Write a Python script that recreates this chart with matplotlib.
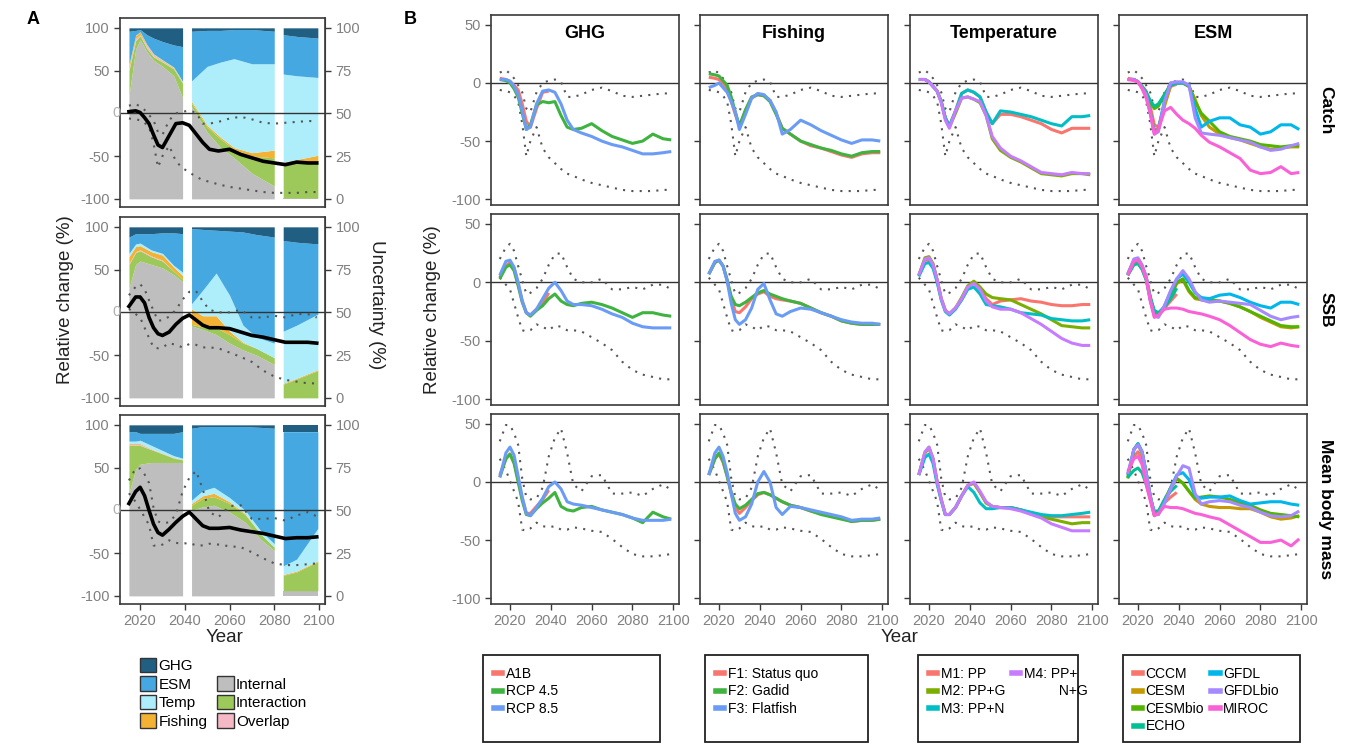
import numpy as np
import matplotlib.pyplot as plt
from matplotlib.patches import Patch, Rectangle
from matplotlib.lines import Line2D

plt.rcParams['font.family'] = ['Liberation Sans', 'DejaVu Sans']
plt.rcParams['axes.unicode_minus'] = False

# ---------------- data ----------------
years = [2015, 2018, 2020, 2022, 2024, 2026, 2028, 2030, 2033, 2036, 2039, 2042, 2045,
         2048, 2051, 2055, 2060, 2065, 2070, 2075, 2080, 2085, 2090, 2095, 2099]
years_short = years[:11]   # runs that stop in 2039

# dotted envelopes (same in panel A and B)
catch_upper = [9, 11, 8, 4, -2, -8, -22, -25, -8, 0, 2, 3, 1, -12, -12, -10, -6, -4, -7, -11, -12, -11, -10, -9, -9]
catch_lower = [-6, -7, -8, -11, -16, -35, -63, -50, -38, -56, -64, -69, -74, -78, -80, -83, -86, -88, -90, -92, -93, -93, -93, -92, -92]
ssb_upper = [20, 30, 33, 27, 14, 2, -10, -9, -5, 3, 15, 24, 25, 13, 3, 0, 0, 3, -6, -6, -4, -6, -2, -2, -6]
ssb_lower = [4, -2, -6, -18, -30, -41, -42, -41, -36, -38, -41, -37, -38, -41, -41, -42, -47, -52, -58, -68, -75, -79, -81, -83, -83]
mass_upper = [35, 49, 49, 42, 32, 3, -13, -15, -14, -5, 22, 38, 46, 25, -2, -8, 5, 6, -10, -10, -9, -12, -6, -2, -7]
mass_lower = [20, 10, 1, -8, -17, -41, -42, -40, -35, -38, -39, -38, -41, -41, -39, -40, -42, -43, -49, -56, -62, -64, -64, -63, -62]

# ensemble mean (black line, panel A)
catch_mean = [2, 3, 1, -5, -12, -25, -37, -40, -26, -12, -11, -14, -24, -34, -42, -44, -42, -48, -52, -56, -58, -60, -57, -58, -58]
ssb_mean = [7, 18, 18, 11, -6, -18, -25, -27, -23, -14, -7, -3, -9, -15, -18, -18, -19, -23, -27, -29, -32, -35, -35, -35, -36]
mass_mean = [8, 22, 27, 17, 0, -16, -26, -29, -22, -14, -7, -2, -10, -18, -21, -21, -20, -23, -25, -27, -30, -33, -32, -32, -31]

# Catch
catch_a1b = [4, 3, 1.5, -2, -6, -18, -33, -38, -22, -8, -7]
catch_rcp45 = [3, 2, 0, -5, -12, -26, -40, -36, -19, -16, -17, -16, -28, -38, -40, -39, -35, -41, -46, -49, -52, -50, -44, -48, -49]
catch_rcp85 = [3, 3, 1.5, -3, -10, -24, -40, -38, -18, -7, -6, -8, -18, -32, -40, -43, -46, -50, -53, -55, -58, -61, -61, -60, -59]
catch_f1 = [5, 4, 3, 0, -6, -16, -27, -37, -24, -13, -10, -11, -15, -26, -39, -44, -50, -54, -56, -59, -62, -64, -61, -60, -60]
catch_f2 = [8, 7, 6, 2, -2, -12, -25, -37, -23, -12, -10, -11, -16, -27, -39, -44, -50, -53, -56, -58, -61, -63, -60, -59, -59]
catch_f3 = [-4, -2, 0, -4, -8, -16, -25, -40, -27, -13, -9, -10, -15, -25, -44, -40, -32, -36, -41, -45, -49, -52, -49, -49, -50]
catch_m1 = [3, 3, 1, -3, -7, -16, -30, -37, -24, -9, -6, -8, -12, -25, -35, -27, -27, -29, -32, -35, -40, -43, -39, -39, -39]
catch_m2 = [3, 3, 1, -3, -7, -16, -30, -38, -26, -13, -12, -14, -17, -28, -48, -58, -64, -68, -73, -78, -79, -80, -78, -78, -79]
catch_m3 = [3, 3, 1, -3, -7, -16, -30, -37, -24, -9, -6, -8, -12, -25, -35, -24, -25, -27, -29, -32, -35, -37, -29, -29, -28]
catch_m4 = [3, 3, 1, -3, -7, -17, -32, -39, -24, -13, -12, -14, -16, -28, -46, -56, -63, -67, -72, -77, -78, -79, -77, -78, -78]
catch_cccm = [4, 3, 1, -3, -7, -20, -36, -38, -18, -3, -1]
catch_cesm = [3, 3, 1, -4, -10, -24, -40, -40, -20, -2, 0, 0, -3, -14, -28, -38, -44, -47, -49, -52, -55, -57, -56, -55, -55]
catch_cesmbio = [3, 3, 1, -3, -8, -16, -22, -20, -10, -1, 0, 0, -3, -16, -26, -33, -42, -46, -48, -50, -53, -54, -55, -54, -54]
catch_echo = [3, 3, 1, -3, -8, -15, -20, -18, -10, -2, 0]
catch_gfdl = [3, 3, 1, -4, -10, -25, -42, -40, -15, 0, 0, 0, -2, -22, -38, -33, -30, -30, -36, -38, -44, -42, -36, -36, -40]
catch_gfdlbio = [3, 3, 1, -4, -10, -26, -44, -42, -16, 0, 1, 1, -2, -30, -43, -44, -45, -47, -49, -51, -55, -58, -57, -54, -52]
catch_miroc = [3, 2, 1, -5, -13, -26, -44, -40, -24, -21, -27, -32, -35, -39, -45, -51, -55, -60, -65, -75, -78, -77, -72, -78, -77]

# SSB
ssb_a1b = [4, 14, 17, 12, -1, -16, -26, -28, -23, -18, -9]
ssb_rcp45 = [3, 13, 15, 10, -3, -17, -26, -29, -24, -20, -14, -10, -16, -19, -20, -18, -17, -19, -22, -26, -30, -26, -26, -28, -29]
ssb_rcp85 = [6, 18, 19, 13, 0, -16, -26, -28, -23, -14, -5, 0, -7, -16, -19, -19, -20, -23, -27, -30, -35, -38, -39, -39, -39]
ssb_f1 = [7, 17, 19, 14, 2, -14, -25, -26, -21, -14, -10, -8, -12, -14, -15, -16, -18, -22, -26, -29, -33, -35, -36, -36, -36]
ssb_f2 = [7, 17, 19, 14, 2, -12, -19, -20, -17, -13, -9, -7, -10, -12, -14, -16, -18, -22, -26, -29, -33, -35, -36, -36, -36]
ssb_f3 = [7, 18, 19, 14, 1, -18, -32, -36, -32, -22, -6, -1, -15, -27, -29, -25, -22, -23, -26, -29, -32, -34, -35, -35, -36]
ssb_m1 = [6, 19, 19, 15, 2, -14, -24, -27, -22, -15, -5, 0, -6, -14, -19, -16, -15, -14, -16, -17, -19, -20, -20, -19, -19]
ssb_m2 = [6, 21, 22, 16, 2, -14, -24, -27, -22, -13, -3, 1, -4, -10, -13, -14, -15, -19, -23, -27, -32, -37, -38, -39, -39]
ssb_m3 = [5, 16, 17, 12, 0, -15, -25, -28, -23, -15, -6, -4, -10, -19, -20, -21, -23, -26, -27, -28, -31, -32, -33, -33, -32]
ssb_m4 = [6, 20, 21, 15, 2, -14, -24, -27, -22, -14, -4, -1, -6, -16, -21, -23, -23, -26, -31, -36, -42, -48, -52, -54, -54]
ssb_cccm = [7, 19, 20, 14, 5, -12, -26, -28, -22, -16, -10]
ssb_cesm = [7, 18, 19, 13, 4, -13, -27, -29, -22, -12, -1, 2, -8, -14, -15, -16, -16, -18, -21, -25, -30, -34, -38, -39, -38]
ssb_cesmbio = [6, 16, 17, 12, 3, -13, -26, -28, -21, -11, 0, 3, -7, -13, -14, -15, -16, -18, -21, -25, -29, -33, -37, -38, -38]
ssb_echo = [6, 15, 16, 11, 2, -13, -24, -26, -21, -14, -5]
ssb_gfdl = [7, 19, 20, 14, 4, -15, -28, -29, -20, -8, 3, 7, 0, -9, -13, -14, -11, -10, -13, -17, -20, -22, -17, -17, -19]
ssb_gfdlbio = [7, 20, 21, 15, 5, -15, -29, -30, -20, -7, 3, 10, 3, -8, -15, -17, -16, -17, -18, -19, -24, -29, -32, -30, -29]
ssb_miroc = [6, 18, 19, 13, 3, -16, -30, -28, -23, -22, -22, -23, -25, -26, -27, -29, -32, -37, -43, -49, -53, -55, -52, -54, -55]

# Mean body mass
mass_a1b = [6, 20, 24, 17, 2, -14, -27, -27, -21, -15, -7]
mass_rcp45 = [4, 20, 24, 16, 0, -16, -28, -29, -23, -18, -14, -9, -21, -24, -25, -22, -21, -24, -26, -28, -31, -35, -26, -30, -32]
mass_rcp85 = [4, 25, 30, 23, 5, -13, -27, -29, -22, -14, -4, 0, -6, -17, -19, -20, -22, -24, -26, -28, -31, -33, -33, -33, -32]
mass_f1 = [6, 20, 24, 17, 5, -10, -22, -27, -22, -16, -11, -9, -11, -14, -17, -20, -22, -25, -27, -29, -31, -34, -33, -33, -32]
mass_f2 = [6, 20, 25, 18, 5, -9, -19, -23, -20, -15, -10, -9, -11, -14, -17, -20, -22, -25, -28, -30, -32, -34, -33, -33, -32]
mass_f3 = [6, 25, 30, 22, 8, -10, -27, -33, -30, -19, 0, 9, 0, -22, -28, -21, -22, -24, -26, -28, -30, -33, -32, -32, -31]
mass_m1 = [6, 25, 29, 19, 0, -15, -28, -28, -22, -12, -3, -1, -9, -18, -21, -22, -22, -24, -27, -29, -30, -30, -30, -30, -30]
mass_m2 = [6, 25, 30, 20, 0, -15, -28, -28, -22, -12, -3, -1, -9, -18, -21, -22, -22, -24, -27, -30, -32, -34, -36, -35, -35]
mass_m3 = [6, 21, 24, 16, -2, -16, -28, -28, -22, -12, -4, -9, -18, -23, -23, -22, -22, -24, -26, -28, -29, -29, -28, -27, -26]
mass_m4 = [6, 26, 30, 20, 0, -15, -28, -28, -22, -12, -3, 0, -8, -17, -21, -22, -23, -25, -28, -31, -36, -39, -42, -42, -42]
mass_cccm = [7, 22, 26, 20, 4, -14, -29, -27, -18, -13, -9]
mass_cesm = [4, 28, 32, 25, 8, -12, -28, -27, -16, -5, 3, -1, -8, -15, -19, -21, -22, -22, -23, -23, -26, -30, -32, -31, -29]
mass_cesmbio = [3, 28, 33, 26, 8, -12, -28, -27, -16, -5, 3, -1, -8, -14, -13, -12, -13, -15, -18, -20, -24, -27, -28, -29, -30]
mass_echo = [4, 10, 12, 8, -2, -14, -25, -25, -15, -8, -3]
mass_gfdl = [6, 28, 33, 26, 8, -12, -28, -28, -18, -5, 6, 8, 2, -12, -14, -13, -13, -12, -16, -19, -18, -17, -17, -19, -20]
mass_gfdlbio = [7, 28, 32, 26, 8, -12, -28, -28, -18, -6, 5, 14, 12, -10, -19, -17, -16, -17, -20, -22, -26, -29, -30, -29, -25]
mass_miroc = [9, 20, 22, 15, -2, -16, -29, -27, -21, -22, -22, -23, -25, -27, -28, -30, -32, -37, -42, -47, -52, -52, -50, -55, -49]

# uncertainty partition (%), rows: Internal, Interaction, Overlap, Fishing, Temp, ESM, GHG
part_names = ['Internal', 'Interaction', 'Overlap', 'Fishing', 'Temp', 'ESM', 'GHG']
catch_y1 = [2015, 2018, 2020, 2023, 2026, 2030, 2035, 2039]
catch_p1 = [[60, 87.5, 93, 86, 81, 77.5, 72, 59],
            [15, 5, 2.5, 2, 2, 2.5, 4, 8.5],
            [1, 1.5, 0.5, 1.5, 1, 0.5, 0.3, 0.2],
            [2, 1.5, 1.5, 0.5, 0.5, 0.5, 0.5, 0.5],
            [0.5, 0.3, 0.2, 0.3, 0.3, 0.3, 0.3, 0.5],
            [19.5, 2.7, 1.3, 5.7, 9.2, 10.7, 12.9, 20.3],
            [2, 1.5, 1, 4, 6, 8, 10, 11]]
catch_y2 = [2043, 2050, 2056, 2062, 2070, 2080]
catch_p2 = [[54, 39, 30, 24, 15, 7.5],
            [2, 3, 5, 5, 10, 16.5],
            [0, 0, 0, 0, 0, 0],
            [1, 1, 1, 1, 2, 4.5],
            [12, 34.5, 44, 52, 52, 50.5],
            [29, 21, 18.5, 17, 20, 19],
            [2, 1.5, 1.5, 1, 1, 2]]
catch_y3 = [2084, 2090, 2099.5]
catch_p3 = [[0.5, 0.5, 0.5],
            [19, 20.5, 22],
            [0, 0, 0],
            [2, 2, 3],
            [51.5, 49, 45.5],
            [23, 23, 23],
            [4, 5, 6]]

ssb_y1 = [2015, 2018, 2020, 2025, 2030, 2035, 2039]
ssb_p1 = [[64, 78, 80, 78, 76, 72, 68],
          [14, 7, 6, 4.5, 4, 2, 1.5],
          [0.5, 0.5, 0.5, 0.5, 0.5, 0, 0],
          [4, 3, 2.5, 2.5, 3, 2.5, 2],
          [2, 1.5, 1.5, 1, 1, 1, 2],
          [9.5, 6, 5.5, 9.5, 12, 19, 22.5],
          [6, 4, 4, 4, 3.5, 3.5, 4]]
ssb_y2 = [2043, 2048, 2054, 2060, 2066, 2072, 2080]
ssb_p2 = [[42, 40, 37, 32, 28, 25, 19.5],
          [1, 1.5, 4, 5, 4, 4, 4],
          [0, 0, 0, 0, 0, 0, 0],
          [9, 6.5, 7, 2, 0.5, 0, 0],
          [3, 15, 25, 21, 10, 6.5, 8.5],
          [44, 35.5, 25, 37.5, 54.5, 60, 62],
          [1, 1.5, 2, 2.5, 3, 4.5, 6]]
ssb_y3 = [2084, 2090, 2099.5]
ssb_p3 = [[0, 0, 0],
          [8, 11, 16],
          [0, 0, 0],
          [0.5, 0.5, 0.5],
          [30.5, 31, 32.5],
          [53, 48.5, 41],
          [8, 9, 10]]

mass_y1 = [2015, 2018, 2020, 2025, 2030, 2035, 2039]
mass_p1 = [[60, 74, 77, 78, 78, 78, 78],
           [28, 14, 11, 7.5, 5, 2.5, 1.5],
           [0.5, 0.5, 0.5, 0.3, 0, 0, 0],
           [0.5, 0.5, 0.5, 0.2, 0.3, 0.3, 0.3],
           [1.5, 1.5, 2, 2, 1.7, 1.2, 0.7],
           [5.5, 5.5, 4, 7, 10, 13, 15.5],
           [4, 4, 5, 5, 5, 5, 4]]
mass_y2 = [2043, 2048, 2053, 2060, 2067, 2074, 2080]
mass_p2 = [[50, 52, 53, 49, 43, 33, 26.5],
           [3, 5, 5, 5, 4.5, 3, 2],
           [0, 0, 0, 0, 0, 0, 0],
           [1, 1.5, 2, 1, 0.5, 0, 0],
           [2, 3, 3.5, 2.5, 2, 2, 2],
           [42, 37.5, 35.5, 41.5, 49, 60.5, 67.5],
           [2, 1, 1, 1, 1, 1.5, 2]]
mass_y3 = [2084, 2090, 2099.5]
mass_p3 = [[3, 3, 3],
           [9, 11, 17],
           [0, 0, 0],
           [0.5, 0.5, 0.5],
           [5, 7, 19],
           [78.5, 74.5, 56.5],
           [4, 4, 4]]

part_colors = ['#bebebe', '#9dc95b', '#f5b8c5', '#f3b234', '#aeeefb', '#45a8e0', '#215f82']

# scenario groups
col_titles = ['GHG', 'Fishing', 'Temperature', 'ESM']
row_titles = ['Catch', 'SSB', 'Mean body mass']
ghg_labels = ['A1B', 'RCP 4.5', 'RCP 8.5']
fish_labels = ['F1: Status quo', 'F2: Gadid', 'F3: Flatfish']
temp_labels = ['M1: PP', 'M2: PP+G', 'M3: PP+N', 'M4: PP+']
esm_labels = ['CCCM', 'CESM', 'CESMbio', 'ECHO', 'GFDL', 'GFDLbio', 'MIROC']
c3 = ['#F8766D', '#3fb33f', '#6b9cf5']
c4 = ['#F8766D', '#7CAE00', '#00BFC4', '#C77CFF']
c7 = ['#F8766D', '#C49A00', '#53B400', '#00C094', '#00B6EB', '#A58AFF', '#FB61D7']

rows_data = [
    [[catch_a1b, catch_rcp45, catch_rcp85], [catch_f1, catch_f2, catch_f3],
     [catch_m1, catch_m2, catch_m3, catch_m4],
     [catch_cccm, catch_cesm, catch_cesmbio, catch_echo, catch_gfdl, catch_gfdlbio, catch_miroc]],
    [[ssb_a1b, ssb_rcp45, ssb_rcp85], [ssb_f1, ssb_f2, ssb_f3],
     [ssb_m1, ssb_m2, ssb_m3, ssb_m4],
     [ssb_cccm, ssb_cesm, ssb_cesmbio, ssb_echo, ssb_gfdl, ssb_gfdlbio, ssb_miroc]],
    [[mass_a1b, mass_rcp45, mass_rcp85], [mass_f1, mass_f2, mass_f3],
     [mass_m1, mass_m2, mass_m3, mass_m4],
     [mass_cccm, mass_cesm, mass_cesmbio, mass_echo, mass_gfdl, mass_gfdlbio, mass_miroc]],
]
envelopes = [(catch_upper, catch_lower), (ssb_upper, ssb_lower), (mass_upper, mass_lower)]
means = [catch_mean, ssb_mean, mass_mean]
partitions = [[(catch_y1, catch_p1), (catch_y2, catch_p2), (catch_y3, catch_p3)],
              [(ssb_y1, ssb_p1), (ssb_y2, ssb_p2), (ssb_y3, ssb_p3)],
              [(mass_y1, mass_p1), (mass_y2, mass_p2), (mass_y3, mass_p3)]]
col_colors = [c3, c3, c4, c7]

# ---------------- drawing ----------------
W, H = 1345, 750
fig = plt.figure(figsize=(W / 100, H / 100), dpi=100)

TICK_GREY = '#808080'
FRAME = '#3a3a3a'


def px_axes(x0, y0, x1, y1):
    return fig.add_axes([x0 / W, 1 - y1 / H, (x1 - x0) / W, (y1 - y0) / H])


def style(ax):
    for s in ax.spines.values():
        s.set_color(FRAME)
        s.set_linewidth(1.2)
    ax.tick_params(colors=FRAME, labelcolor=TICK_GREY, labelsize=10.5, length=4, width=1)


def dotted(ax, up, lo):
    ax.plot(years, up, color='#555555', lw=1.5, ls=(0, (1, 3)))
    ax.plot(years, lo, color='#555555', lw=1.5, ls=(0, (1, 3)))


a_rows = [(18, 207), (217, 406), (415, 604)]
b_rows = [(15, 205), (214, 405), (414, 604)]
b_cols = [491, 700, 910, 1119]

# panel A
for r, (y0, y1) in enumerate(a_rows):
    ax = px_axes(120, y0, 325, y1)
    style(ax)
    for yrs, shares in partitions[r]:
        cum = np.cumsum(np.array(shares, float), axis=0)
        base = np.zeros(len(yrs))
        for top, col in zip(cum, part_colors):
            ax.fill_between(yrs, 2 * base - 100, 2 * top - 100, color=col, lw=0)
            base = top
    ax.axhline(0, color='#333333', lw=1)
    dotted(ax, *envelopes[r])
    ax.plot(years, means[r], color='black', lw=2.6)
    ax.set_xlim(2011, 2102.7)
    ax.set_ylim(-109.5, 111.5)
    ax.set_yticks([-100, -50, 50, 100])
    ax.text(-0.015, 0, '0', transform=ax.get_yaxis_transform(), ha='center', va='center',
            fontsize=10.5, color='#b0b0b0')
    sec = ax.secondary_yaxis('right', functions=(lambda v: (v + 100) / 2, lambda p: 2 * p - 100))
    sec.set_yticks([0, 25, 50, 75, 100])
    sec.spines['right'].set_color(FRAME)
    sec.tick_params(colors=FRAME, labelcolor=TICK_GREY, labelsize=10.5, length=4, width=1)
    ax.set_xticks([2020, 2040, 2060, 2080, 2100])
    if r < 2:
        ax.tick_params(axis='x', length=0, labelbottom=False)

# panel B
for r, (y0, y1) in enumerate(b_rows):
    for c, x0 in enumerate(b_cols):
        ax = px_axes(x0, y0, x0 + 188, y1)
        style(ax)
        ax.axhline(0, color='#333333', lw=1)
        dotted(ax, *envelopes[r])
        for series, col in zip(rows_data[r][c], col_colors[c]):
            ax.plot(years[:len(series)], series, color=col, lw=2.2, solid_capstyle='butt')
        ax.set_xlim(2010.7, 2102.8)
        ax.set_ylim(-105, 58.5)
        ax.set_yticks([-100, -50, 0, 50])
        ax.set_xticks([2020, 2040, 2060, 2080, 2100])
        if c > 0:
            ax.tick_params(axis='y', labelleft=False)
        if r < 2:
            ax.tick_params(axis='x', length=0, labelbottom=False)
        if r == 0:
            ax.text(0.5, 0.9, col_titles[c], transform=ax.transAxes, ha='center', va='center',
                    fontsize=13, weight='bold')
    fig.text(1326 / W, 1 - (y0 + y1) / 2 / H, row_titles[r], rotation=270, ha='center', va='center',
             fontsize=12.5, weight='bold')

# text labels
fig.text(33 / W, 1 - 20 / H, 'A', fontsize=13, weight='bold', ha='center', va='center')
fig.text(410 / W, 1 - 20 / H, 'B', fontsize=13, weight='bold', ha='center', va='center')
fig.text(66 / W, 1 - 300 / H, 'Relative change (%)', rotation=90, ha='center', va='center', fontsize=13.5,
         color='#222222')
fig.text(377 / W, 1 - 305 / H, 'Uncertainty (%)', rotation=270, ha='center', va='center', fontsize=13.5,
         color='#222222')
fig.text(432 / W, 1 - 310 / H, 'Relative change (%)', rotation=90, ha='center', va='center', fontsize=13.5,
         color='#222222')
fig.text(225 / W, 1 - 637 / H, 'Year', ha='center', va='center', fontsize=13.5, color='#222222')
fig.text(900 / W, 1 - 637 / H, 'Year', ha='center', va='center', fontsize=13.5, color='#222222')

# legend A
blank = Patch(facecolor='none', edgecolor='none')
pa = {n: Patch(facecolor=c, edgecolor='#333333', lw=1) for n, c in zip(part_names, part_colors)}
fig.legend([pa['GHG'], pa['ESM'], pa['Temp'], pa['Fishing'], blank, pa['Internal'], pa['Interaction'],
            pa['Overlap']],
           ['GHG', 'ESM', 'Temp', 'Fishing', '', 'Internal', 'Interaction', 'Overlap'],
           ncol=2, loc='upper left', bbox_to_anchor=(132 / W, 1 - 650 / H), frameon=False,
           fontsize=11, handlelength=1.1, handleheight=1.1, handletextpad=0.15, labelspacing=0.2,
           columnspacing=0.6, borderpad=0)

# legends B
boxes = [(483, 660), (705, 868), (918, 1078), (1123, 1300)]
blank_line = Line2D([], [], color='none')
groups = [(ghg_labels, c3, 1), (fish_labels, c3, 1), (temp_labels, c4, 2), (esm_labels, c7, 2)]
for (bx0, bx1), (labels, cols, nc) in zip(boxes, groups):
    fig.patches.append(Rectangle((bx0 / W, 1 - 742 / H), (bx1 - bx0) / W, 87 / H, transform=fig.transFigure,
                                 facecolor='white', edgecolor='#222222', lw=1.3))
    hs = [Line2D([], [], color=cc, lw=4) for cc in cols]
    ls = list(labels)
    if nc == 2 and len(hs) == 4:
        hs = hs[:3] + [hs[3], blank_line, blank_line]
        ls = ls[:3] + [ls[3], '         N+G', '']
    elif nc == 2:
        hs = hs + [blank_line]
        ls = ls + ['']
    fig.legend(hs, ls, ncol=nc, loc='upper left', bbox_to_anchor=((bx0 + 4) / W, 1 - 660 / H),
               frameon=False, fontsize=10, handlelength=0.6, handletextpad=0.25, labelspacing=0.25,
               columnspacing=0.5, borderpad=0)

fig.savefig('out.png', dpi=100, facecolor='white')
